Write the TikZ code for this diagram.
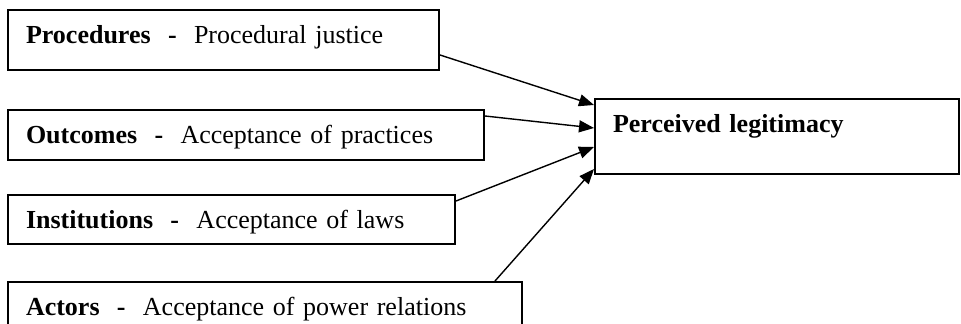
\documentclass[tikz,border=0pt]{standalone}
\usepackage{fontspec}
\setmainfont{Liberation Serif}
\usetikzlibrary{positioning, arrows.meta}

\begin{document}
\begin{tikzpicture}[
    x = 0.5pt,
    y = -0.5pt,
    > = {Triangle[length = 7.5pt, width = 6pt]},
    font = \fontsize{13}{15}\selectfont,
    box/.style = {draw, line width = 1pt, anchor = north west, align = left,
                  inner xsep = 9pt, inner ysep = 0pt, text height = 17pt},
    link/.style = {->, line width = .7pt}
]

\clip (0,0) rectangle (961,324);

% Sources
\node[box, text width = 197.5pt, text depth = 13pt] at (7,9) (proc)
    {\textbf{Procedures~~-}~~Procedural justice};
\node[box, text width = 220pt, text depth = 8pt,
      below = 19pt of proc.south west, anchor = north west] (outc)
    {\textbf{Outcomes~~-}~~Acceptance of practices};
\node[box, text width = 205.5pt, text depth = 7.5pt,
      below = 16.5pt of outc.south west, anchor = north west] (inst)
    {\textbf{Institutions~~-}~~Acceptance of laws};
\node[box, text width = 239pt, text depth = 10pt,
      below = 18pt of inst.south west, anchor = north west] (act)
    {\textbf{Actors~~-}~~Acceptance of power relations};

% Result
\node[box, text width = 164pt, text depth = 20.5pt] at (594,98) (perc)
    {\textbf{Perceived legitimacy}};

% Links
\draw[link] ([yshift = 8pt]proc.south east)   -- ([yshift = -3.5pt]perc.north west);
\draw[link] ([yshift = -3.5pt]outc.north east) -- ([yshift = -15pt]perc.north west);
\draw[link] ([yshift = -3.5pt]inst.north east) -- ([yshift = -24.5pt]perc.north west);
\draw[link] ([xshift = -14pt]act.north east)   -- ([yshift = 3pt]perc.south west);

\end{tikzpicture}
\end{document}
